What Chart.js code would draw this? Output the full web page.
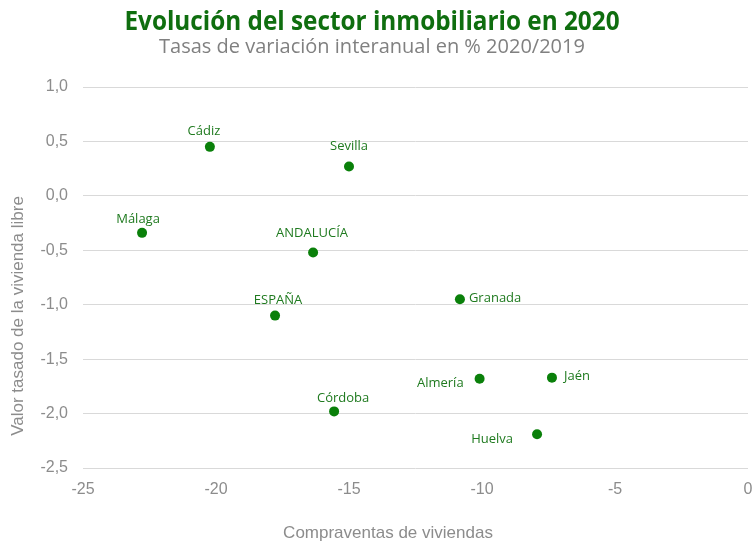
<!DOCTYPE html>
<html><head><meta charset="utf-8">
<script src="https://cdn.jsdelivr.net/npm/chart.js@4"></script>
<style>html,body{margin:0;padding:0;background:#fff}#wrap{width:753px;height:542px}</style>
</head><body><div id="wrap"><canvas id="c" width="753" height="542"></canvas></div>
<script>
const provinces = ['Cádiz','Sevilla','Málaga','ANDALUCÍA','ESPAÑA','Granada','Almería','Jaén','Córdoba','Huelva'];
const salesChange = [-20.23,-15.0,-22.78,-16.35,-17.78,-10.83,-10.09,-7.37,-15.56,-7.93];
const valueChange = [0.45,0.27,-0.34,-0.52,-1.10,-0.95,-1.68,-1.67,-1.98,-2.19];
const xTicks = [-25,-20,-15,-10,-5,0];
const yTicks = [1.0,0.5,0,-0.5,-1.0,-1.5,-2.0,-2.5];
const chartTitle = 'Evolución del sector inmobiliario en 2020';
const chartSubtitle = 'Tasas de variación interanual en % 2020/2019';
const xTitle = 'Compraventas de viviendas';
const yTitle = 'Valor tasado de la vivienda libre';

// label placement relative to each point: [dx, dy, align]
const labelPlacement = {
  'Cádiz':[-6,-16,'center'], 'Sevilla':[0,-20,'center'], 'Málaga':[-4,-14,'center'],
  'ANDALUCÍA':[-1,-19,'center'], 'ESPAÑA':[3,-15,'center'], 'Granada':[9,-1,'left'],
  'Jaén':[12,-1,'left'], 'Almería':[-16,5,'right'], 'Huelva':[-24,5,'right'], 'Córdoba':[9,-13,'center']
};

const GREEN = '#0a800a';
const GRAY = '#8c8c8c';

const textPlugin = {
  id:'texts',
  afterDraw(chart){
    const ctx = chart.ctx;
    ctx.save();
    ctx.textBaseline = 'middle';
    ctx.textAlign = 'center';
    ctx.fillStyle = '#0f6e0f';
    ctx.font = 'bold 27px "Open Sans", sans-serif';
    ctx.save();
    ctx.translate(372, 22);
    ctx.scale(0.9, 1);
    ctx.fillText(chartTitle, 0, 0);
    ctx.restore();
    ctx.fillStyle = '#808080';
    ctx.font = '20px "Open Sans", sans-serif';
    ctx.fillText(chartSubtitle, 372, 47);
    ctx.fillStyle = GRAY;
    ctx.font = '17px "Liberation Sans", Arial, sans-serif';
    ctx.fillText(xTitle, 388, 533);
    ctx.translate(18, 316);
    ctx.rotate(-Math.PI/2);
    ctx.fillText(yTitle, 0, 0);
    ctx.restore();

    // point labels
    const meta = chart.getDatasetMeta(0);
    ctx.save();
    ctx.font = '13px "Open Sans", sans-serif';
    ctx.fillStyle = '#1f7a1f';
    ctx.textBaseline = 'middle';
    meta.data.forEach((pt,i)=>{
      const p = labelPlacement[provinces[i]];
      ctx.textAlign = p[2];
      ctx.fillText(provinces[i], pt.x + p[0], pt.y + p[1]);
    });
    ctx.restore();
  }
};

new Chart(document.getElementById('c'), {
  type:'scatter',
  data:{datasets:[{
    data: provinces.map((p,i)=>({x:salesChange[i], y:valueChange[i]})),
    backgroundColor:GREEN, borderColor:GREEN, pointRadius:5, pointHoverRadius:5, borderWidth:0
  }]},
  options:{
    responsive:false, animation:false, devicePixelRatio:1,
    layout:{padding:{top:87,right:5,left:0,bottom:0}},
    plugins:{legend:{display:false}, tooltip:{enabled:false}, title:{display:false}},
    scales:{
      x:{type:'linear', min:-25, max:0,
        afterFit:s=>{s.height=74; s.paddingRight=0; s.paddingLeft=0;},
        afterBuildTicks:s=>{s.ticks = xTicks.map(v=>({value:v}));},
        grid:{display:false, drawTicks:false}, border:{display:false},
        ticks:{padding:12, autoSkip:false, maxRotation:0, color:GRAY,
          font:{family:'"Liberation Sans", Arial, sans-serif', size:16},
          callback:v=>String(v)}},
      y:{type:'linear', min:-2.5, max:1,
        afterFit:s=>{s.width=83; s.paddingTop=0; s.paddingBottom=0;},
        afterBuildTicks:s=>{s.ticks = yTicks.map(v=>({value:v}));},
        grid:{color:'#d9d9d9', lineWidth:1, drawTicks:false}, border:{display:false},
        ticks:{padding:15, color:GRAY,
          font:{family:'"Liberation Sans", Arial, sans-serif', size:16},
          callback:v=>Number(v).toFixed(1).replace('.',',')}}
    }
  },
  plugins:[textPlugin]
});
</script></body></html>
